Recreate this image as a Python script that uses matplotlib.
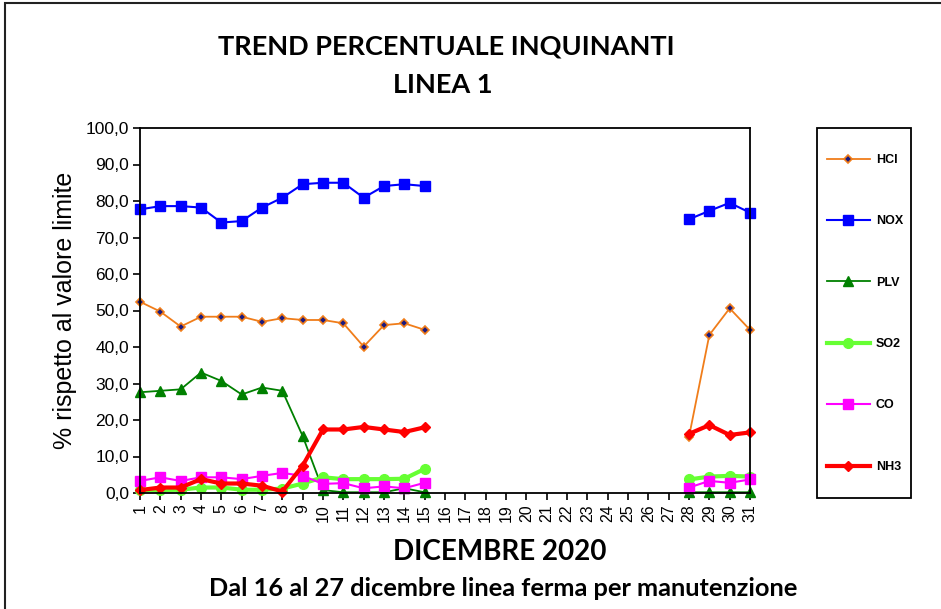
import matplotlib
matplotlib.use('Agg')
import matplotlib.pyplot as plt
import numpy as np
from matplotlib.patches import Rectangle

nan = np.nan
days = list(range(1, 32))
gap = [nan] * 12  # 16..27 dicembre: linea ferma

hcl = [52.4, 49.7, 45.6, 48.3, 48.3, 48.3, 46.9, 47.9, 47.4, 47.4, 46.5, 40.1, 46.0, 46.5, 44.7] + gap + [15.4, 43.3, 50.6, 44.7]
nox = [77.7, 78.6, 78.6, 78.2, 74.1, 74.5, 78.2, 80.9, 84.6, 85.0, 85.0, 80.9, 84.1, 84.6, 84.1] + gap + [75.0, 77.3, 79.5, 76.8]
plv = [27.6, 28.0, 28.4, 33.0, 30.7, 27.0, 28.9, 28.0, 15.6, 0.8, 0.2, 0.2, 0.2, 1.3, 0.2] + gap + [0.2, 0.2, 0.2, 0.2]
so2 = [0.8, 0.8, 0.9, 1.5, 1.5, 0.9, 0.9, 1.2, 2.6, 4.3, 3.8, 3.8, 3.8, 3.9, 6.6] + gap + [3.7, 4.5, 4.7, 4.5]
co = [3.3, 4.3, 3.3, 4.3, 4.3, 3.8, 4.7, 5.5, 4.7, 2.5, 2.7, 1.3, 1.8, 1.3, 2.8] + gap + [1.5, 3.3, 2.8, 3.7]
nh3 = [0.8, 1.5, 1.5, 3.8, 2.6, 2.6, 2.0, 0.4, 7.5, 17.4, 17.4, 18.1, 17.4, 16.7, 18.0] + gap + [16.2, 18.6, 15.9, 16.6]

fig = plt.figure(figsize=(9.41, 6.09), dpi=100)
ax = fig.add_axes([140/941, 116/609, 610/941, 365/609])

ax.plot(days, hcl, color='#F07D1A', lw=1.3, marker='D', ms=4.5, mfc='#1a1a80', mec='#F07D1A', mew=1.2, label='HCl', clip_on=False)
ax.plot(days, nox, color='#0000FF', lw=1.5, marker='s', ms=7, label='NOX', clip_on=False)
ax.plot(days, plv, color='#008000', lw=1.3, marker='^', ms=7, label='PLV', clip_on=False)
ax.plot(days, so2, color='#66FF33', lw=3, marker='o', ms=7, label='SO2', clip_on=False)
ax.plot(days, co, color='#FF00FF', lw=1.5, marker='s', ms=7, label='CO', clip_on=False)
ax.plot(days, nh3, color='#FF0000', lw=3, marker='D', ms=5, label='NH3', clip_on=False)

ax.set_xlim(1, 31)
ax.set_ylim(0, 100)
ax.set_xticks(days)
ax.set_xticklabels([str(d) for d in days], rotation=90, fontsize=11.5, family='Liberation Sans')
ax.set_yticks(np.arange(0, 101, 10))
ax.set_yticklabels([f'{v},0' for v in range(0, 101, 10)], fontsize=12.5, family='Liberation Sans')
ax.tick_params(direction='out', length=5, width=1.2, pad=3)
for s in ax.spines.values():
    s.set_linewidth(1.3)
ax.set_ylabel('% rispetto al valore limite', fontsize=18, family='Liberation Sans', labelpad=6)

fig.text(446/941, 1 - 47/609, 'TREND PERCENTUALE INQUINANTI', ha='center', va='center',
         fontsize=19.5, fontweight='bold', family='Lato')
fig.text(443/941, 1 - 85/609, 'LINEA 1', ha='center', va='center',
         fontsize=19.5, fontweight='bold', family='Lato')
fig.text(500/941, 1 - 552/609, 'DICEMBRE 2020', ha='center', va='center',
         fontsize=20, fontweight='bold', family='Lato')
fig.text(503/941, 1 - 589/609, 'Dal 16 al 27 dicembre linea ferma per manutenzione', ha='center', va='center',
         fontsize=18.3, fontweight='bold', family='Lato')

# legend: entries without frame, box drawn separately
leg = fig.legend(loc='upper left', bbox_to_anchor=(822/941, 1 - 149/609),
                 prop={'family': 'Liberation Sans', 'weight': 'bold', 'size': 9},
                 frameon=False, labelspacing=3.95, handlelength=3.4,
                 borderpad=0.4, borderaxespad=0, handletextpad=0.5)

fig.patches.append(Rectangle((817/941, 1 - 498/609), 94/941, 370/609, transform=fig.transFigure,
                             fill=False, edgecolor='black', lw=1.3))
fig.patches.append(Rectangle((5/941, -0.1), 1.2, 1 - 3/609 + 0.1, transform=fig.transFigure,
                             fill=False, edgecolor='#222222', lw=1.5))

fig.savefig('out.png', dpi=100)
